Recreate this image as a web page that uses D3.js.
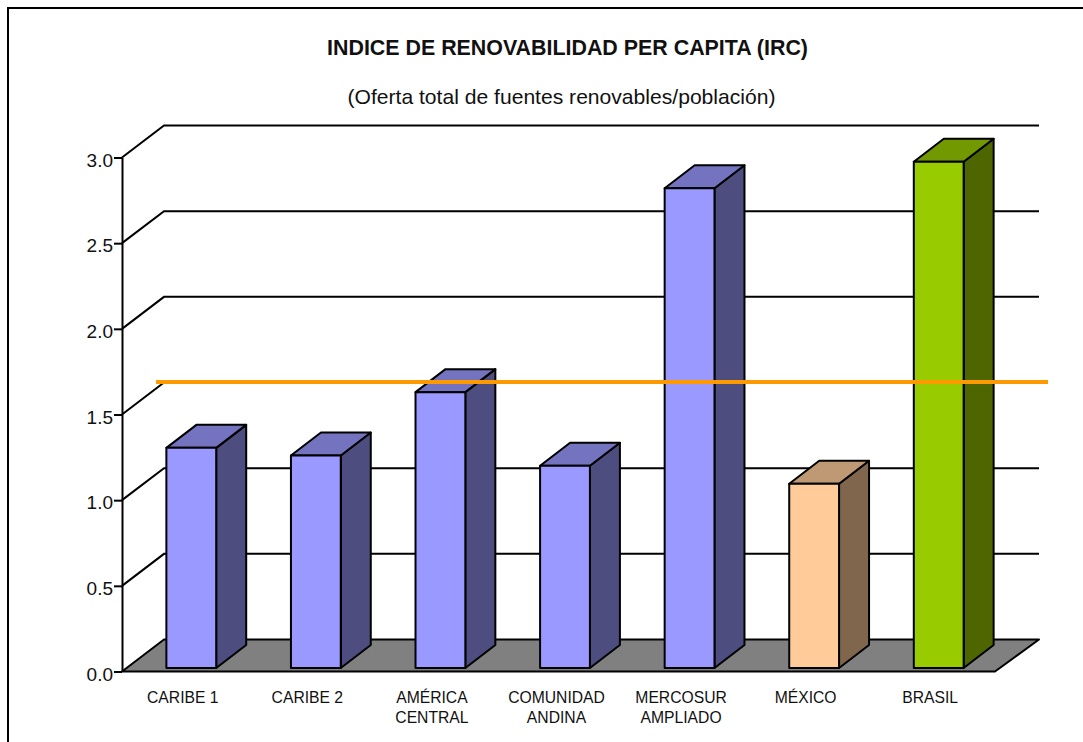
<!DOCTYPE html>
<html>
<head>
<meta charset="utf-8">
<script src="https://cdn.jsdelivr.net/npm/d3@7"></script>
<style>
  html, body { margin: 0; padding: 0; background: #fff; }
  svg { display: block; }
  text { font-family: "Liberation Sans", Arial, sans-serif; fill: #111; }
</style>
</head>
<body>
<script>
const categories = [["CARIBE 1"], ["CARIBE 2"], ["AMÉRICA", "CENTRAL"], ["COMUNIDAD", "ANDINA"], ["MERCOSUR", "AMPLIADO"], ["MÉXICO"], ["BRASIL"]];
const values = [1.285, 1.24, 1.61, 1.18, 2.80, 1.075, 2.955];
const barColors = ["#9999ff", "#9999ff", "#9999ff", "#9999ff", "#9999ff", "#ffcc99", "#99cc00"];
const yTicks = [0, 0.5, 1, 1.5, 2, 2.5, 3];
const refValue = 1.69;
const title = "INDICE DE RENOVABILIDAD PER CAPITA (IRC)";
const subtitle = "(Oferta total de fuentes renovables/población)";

const w = 1083;
const h = 742;
const lw = 2;

const svg = d3.select("body").append("svg")
  .attr("width", w)
  .attr("height", h);

// outer frame: left and top only, the rest is cropped off
svg.append("path")
  .attr("d", `M8,${h}V8H${w}`)
  .attr("fill", "none")
  .attr("stroke", "#000")
  .attr("stroke-width", lw);

svg.append("text").attr("x", 567.5).attr("y", 55)
  .attr("text-anchor", "middle")
  .style("font-size", "21.4px").style("font-weight", "bold")
  .text(title);
svg.append("text").attr("x", 561.5).attr("y", 104)
  .attr("text-anchor", "middle")
  .style("font-size", "21.1px")
  .text(subtitle);

const y = d3.scaleLinear().domain([0, 3]).range([671.5, 157.5]);
const x = d3.scaleBand()
  .domain(d3.range(categories.length))
  .range([122, 994])
  .paddingInner(0.6)
  .paddingOuter(0.3);

// depth of the floor and of each bar
const axisX = 122, floorRight = 995, backRight = 1039;
const depthX = 42, depthY = -32;
const barDX = 30, barDY = -23;
const barOffX = 7, barOffY = -3.5;

// floor
svg.append("path")
  .attr("d", d3.line()([
    [axisX, y(0)],
    [axisX + depthX, y(0) + depthY],
    [backRight, y(0) + depthY],
    [floorRight, y(0)]
  ]) + "Z")
  .attr("fill", "#808080")
  .attr("stroke", "#000")
  .attr("stroke-width", lw)
  .attr("stroke-linejoin", "round");

// gridlines: diagonal up the side wall then along the back
svg.append("g").selectAll("path")
  .data(yTicks.slice(1))
  .join("path")
  .attr("d", d => d3.line()([
    [axisX, y(d)],
    [axisX + depthX, y(d) + depthY],
    [backRight, y(d) + depthY]
  ]))
  .attr("fill", "none")
  .attr("stroke", "#000")
  .attr("stroke-width", lw);

// y axis
const yg = svg.append("g")
  .attr("transform", `translate(${axisX},0)`)
  .call(d3.axisLeft(y)
    .tickValues(yTicks)
    .tickFormat(d3.format(".1f"))
    .tickSize(8)
    .tickSizeOuter(0)
    .tickPadding(1));
yg.select(".domain").attr("stroke", "#000").attr("stroke-width", lw);
yg.selectAll(".tick line").attr("stroke", "#000").attr("stroke-width", lw);
yg.selectAll(".tick text").style("font-size", "19px").attr("dy", "0.45em");

// bars
const shade = (c, k) => {
  const r = d3.rgb(c);
  return d3.rgb(r.r * k, r.g * k, r.b * k).formatHex();
};

const bars = svg.append("g").selectAll("g")
  .data(values.map((v, i) => ({ i, v, c: barColors[i] })))
  .join("g")
  .attr("stroke", "#000")
  .attr("stroke-width", lw)
  .attr("stroke-linejoin", "round");

const bx = d => x(d.i) + barOffX;
const base = y(0) + barOffY;
const barTop = d => y(d.v) + barOffY;

// side face
bars.append("path")
  .attr("d", d => d3.line()([
    [bx(d) + x.bandwidth(), barTop(d)],
    [bx(d) + x.bandwidth() + barDX, barTop(d) + barDY],
    [bx(d) + x.bandwidth() + barDX, base + barDY],
    [bx(d) + x.bandwidth(), base]
  ]) + "Z")
  .attr("fill", d => shade(d.c, 0.5));

// top face
bars.append("path")
  .attr("d", d => d3.line()([
    [bx(d), barTop(d)],
    [bx(d) + barDX, barTop(d) + barDY],
    [bx(d) + x.bandwidth() + barDX, barTop(d) + barDY],
    [bx(d) + x.bandwidth(), barTop(d)]
  ]) + "Z")
  .attr("fill", d => shade(d.c, 0.75));

// front face
bars.append("rect")
  .attr("x", bx)
  .attr("y", barTop)
  .attr("width", x.bandwidth())
  .attr("height", d => base - barTop(d))
  .attr("fill", d => d.c);

// category labels
const labels = svg.append("g").selectAll("text")
  .data(categories)
  .join("text")
  .attr("text-anchor", "middle")
  .style("font-size", "15.7px");
labels.selectAll("tspan")
  .data((d, i) => d.map((t, j) => ({ t, j, i })))
  .join("tspan")
  .attr("x", d => x(d.i) + x.bandwidth() / 2 - 1.5)
  .attr("y", d => 702.5 + d.j * 20)
  .text(d => d.t);

// regional average line, sits in front of everything
svg.append("line")
  .attr("x1", 156)
  .attr("x2", 1048)
  .attr("y1", y(refValue))
  .attr("y2", y(refValue))
  .attr("stroke", "#ff9900")
  .attr("stroke-width", 4);
</script>
</body>
</html>
